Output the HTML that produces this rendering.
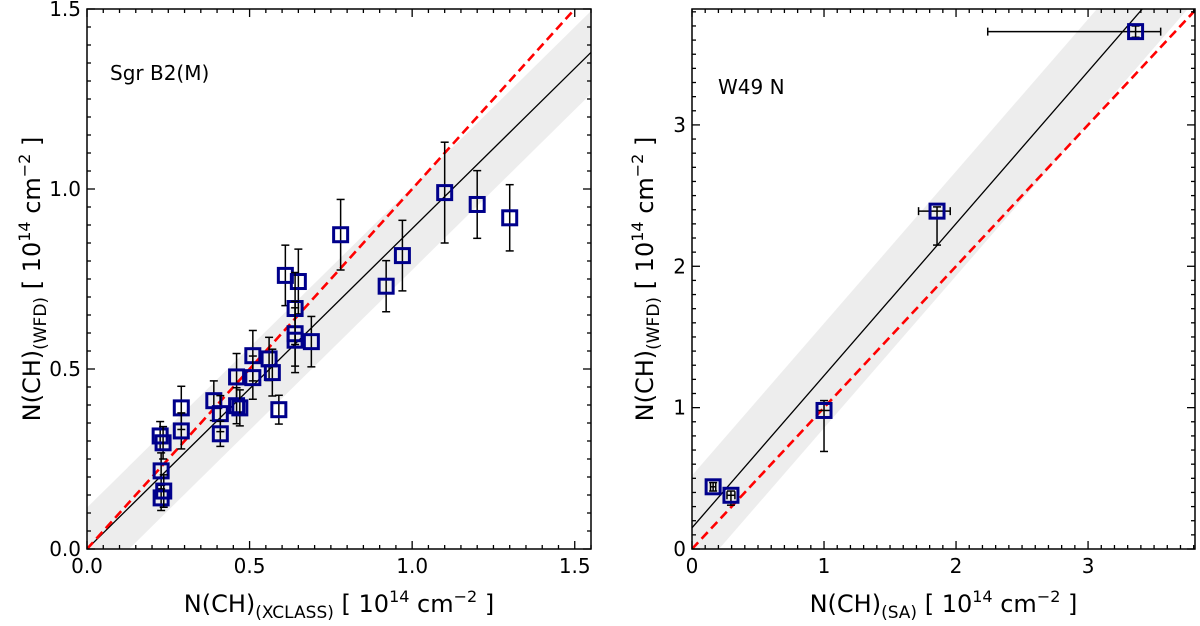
<!DOCTYPE html>
<html><head><meta charset="utf-8"><style>
html,body{margin:0;padding:0;background:#fff;}
svg{display:block;font-family:"DejaVu Sans","Liberation Sans",sans-serif;}
</style></head><body>
<svg id="c" width="1200" height="626" viewBox="0 0 1200 626" xmlns="http://www.w3.org/2000/svg"></svg>
<script>
// Left panel data (Sgr B2(M))
const leftX = [0.225,0.234,0.228,0.228,0.236,0.29,0.29,0.39,0.41,0.41,0.46,0.46,0.47,0.51,0.51,0.56,0.57,0.59,0.61,0.65,0.64,0.64,0.64,0.69,0.78,0.92,0.97,1.10,1.20,1.30];
const leftY = [0.314,0.295,0.217,0.142,0.161,0.392,0.328,0.412,0.376,0.32,0.478,0.398,0.392,0.537,0.476,0.528,0.49,0.387,0.76,0.743,0.668,0.598,0.58,0.576,0.873,0.73,0.815,0.99,0.957,0.92];
const leftErr = [0.04,0.045,0.05,0.035,0.045,0.06,0.05,0.055,0.05,0.035,0.065,0.05,0.05,0.07,0.06,0.06,0.065,0.04,0.084,0.09,0.1,0.09,0.09,0.07,0.098,0.071,0.098,0.14,0.094,0.092];
// Right panel data (W49 N)
const rightX = [0.16,0.295,1.0,1.856,3.36];
const rightY = [0.44,0.38,0.98,2.39,3.66];
const rightXErrLo = [0.02,0.03,0.05,0.14,1.12];
const rightXErrHi = [0.02,0.03,0.05,0.10,0.19];
const rightYErrLo = [0.03,0.07,0.29,0.24,0.04];
const rightYErrHi = [0.03,0.03,0.07,0.03,0.04];
const leftTicks = ["0.0","0.5","1.0","1.5"];
const rightTicks = ["0","1","2","3"];

const NS="http://www.w3.org/2000/svg";
const svg=document.getElementById('c');
function mk(tag,attrs,parent){const e=document.createElementNS(NS,tag);for(const k in attrs)e.setAttribute(k,attrs[k]);(parent||svg).appendChild(e);return e;}

function panel(o){
  const sx=v=>o.x0+(v/o.xmax)*(o.x1-o.x0);
  const sy=v=>o.y0-(v/o.ymax)*(o.y0-o.y1);
  const g=mk('g',{});
  
  
  const cp='clip-'+o.name;
  const cl=mk('clipPath',{id:cp},g);mk('rect',{x:o.x0,y:o.y1,width:o.x1-o.x0,height:o.y0-o.y1},cl);
  const pg=mk('g',{'clip-path':'url(#'+cp+')'},g);
  const X=o.xmax*1.2;
  const band=mk('polygon',{points:[[sx(0),sy(o.b+o.w)],[sx(X),sy(o.b+o.m*X+o.w)],[sx(X),sy(o.b+o.m*X-o.w)],[sx(0),sy(o.b-o.w)]].map(p=>p.join(',')).join(' '),fill:'#ebebeb',opacity:0.9},pg);
  
  
  const fit=mk('line',{x1:sx(0),y1:sy(o.b),x2:sx(X),y2:sy(o.b+o.m*X),stroke:'#000','stroke-width':1.3},pg);
  
  
  const one=mk('line',{x1:sx(0),y1:sy(0),x2:sx(X),y2:sy(X),stroke:'#f00','stroke-width':2.6,'stroke-dasharray':'9,5'},pg);
  
  
  for(let i=0;i<o.px.length;i++){
    const cx=sx(o.px[i]),cy=sy(o.py[i]);
    const pt=mk('g',{},pg);
    
    
    const ylo=sy(o.py[i]-o.eyl[i]),yhi=sy(o.py[i]+o.eyh[i]);
    mk('line',{x1:cx,y1:ylo,x2:cx,y2:yhi,stroke:'#000','stroke-width':1.5},pt);
    mk('line',{x1:cx-4,y1:ylo,x2:cx+4,y2:ylo,stroke:'#000','stroke-width':1.5},pt);
    mk('line',{x1:cx-4,y1:yhi,x2:cx+4,y2:yhi,stroke:'#000','stroke-width':1.5},pt);
    if(o.exl){
      const xl=sx(o.px[i]-o.exl[i]),xh=sx(o.px[i]+o.exh[i]);
      mk('line',{x1:xl,y1:cy,x2:xh,y2:cy,stroke:'#000','stroke-width':1.5},pt);
      mk('line',{x1:xl,y1:cy-4,x2:xl,y2:cy+4,stroke:'#000','stroke-width':1.5},pt);
      mk('line',{x1:xh,y1:cy-4,x2:xh,y2:cy+4,stroke:'#000','stroke-width':1.5},pt);
    }
    mk('rect',{x:cx-7,y:cy-7,width:14,height:14,fill:'none',stroke:'#00008b','stroke-width':3},pt);
  }
  for(let v=0;v<=o.xmax+1e-9;v+=o.xmin){
    const maj=Math.abs(v/o.xmaj-Math.round(v/o.xmaj))<1e-6,L=maj?8:4,x=sx(v);
    mk('line',{x1:x,y1:o.y0,x2:x,y2:o.y0-L,stroke:'#000','stroke-width':1.3},g);
    mk('line',{x1:x,y1:o.y1,x2:x,y2:o.y1+L,stroke:'#000','stroke-width':1.3},g);
  }
  for(let v=0;v<=o.ymax+1e-9;v+=o.ymin){
    const maj=Math.abs(v/o.ymaj-Math.round(v/o.ymaj))<1e-6,L=maj?8:4,y=sy(v);
    mk('line',{x1:o.x0,y1:y,x2:o.x0+L,y2:y,stroke:'#000','stroke-width':1.3},g);
    mk('line',{x1:o.x1,y1:y,x2:o.x1-L,y2:y,stroke:'#000','stroke-width':1.3},g);
  }
  o.ticks.forEach((t,i)=>{
    const v=i*o.xmaj;
    const tx=mk('text',{x:sx(v),y:o.y0+24,'font-size':20,'text-anchor':'middle'},g);tx.textContent=t;
    
    
    const ty=mk('text',{x:o.x0-6,y:sy(v)+7,'font-size':20,'text-anchor':'end'},g);ty.textContent=t;
    
    
  });
  const fr=mk('rect',{x:o.x0,y:o.y1,width:o.x1-o.x0,height:o.y0-o.y1,fill:'none',stroke:'#000','stroke-width':1.5},g);
  
  
  const lb=mk('text',{x:o.lx,y:o.ly,'font-size':20},g);lb.textContent=o.label;
  
  
  const xt=mk('text',{x:(o.x0+o.x1)/2,y:612,'font-size':24,'text-anchor':'middle'},g);
  xt.innerHTML='N(CH)<tspan font-size="17" dy="6">'+o.sub+'</tspan><tspan dy="-6"> [ 10</tspan><tspan font-size="16" dy="-10">14</tspan><tspan dy="10"> cm</tspan><tspan font-size="16" dy="-10">−2</tspan><tspan dy="10"> ]</tspan>';
  
  
  const yt=mk('text',{x:0,y:0,'font-size':24,'text-anchor':'middle',transform:'translate('+o.ytx+','+(o.y0+o.y1)/2+') rotate(-90)'},g);
  yt.innerHTML='N(CH)<tspan font-size="17" dy="6">(WFD)</tspan><tspan dy="-6"> [ 10</tspan><tspan font-size="16" dy="-10">14</tspan><tspan dy="10"> cm</tspan><tspan font-size="16" dy="-10">−2</tspan><tspan dy="10"> ]</tspan>';
  
  
}
panel({name:'sgrb2-panel',x0:87,x1:591,y0:549,y1:9,xmax:1.55,ymax:1.5,m:0.89,b:0,w:0.115,
  px:leftX,py:leftY,eyl:leftErr,eyh:leftErr,xmaj:0.5,xmin:0.05,ymaj:0.5,ymin:0.05,ticks:leftTicks,
  label:'Sgr B2(M)',lx:110,ly:80,sub:'(XCLASS)',ytx:40});
panel({name:'w49n-panel',x0:692,x1:1195,y0:549,y1:9,xmax:3.81,ymax:3.82,m:1.076,b:0.15,w:0.37,
  px:rightX,py:rightY,eyl:rightYErrLo,eyh:rightYErrHi,exl:rightXErrLo,exh:rightXErrHi,xmaj:1,xmin:0.1,ymaj:1,ymin:0.1,ticks:rightTicks,
  label:'W49 N',lx:718,ly:94,sub:'(SA)',ytx:653});
</script>
</body></html>
